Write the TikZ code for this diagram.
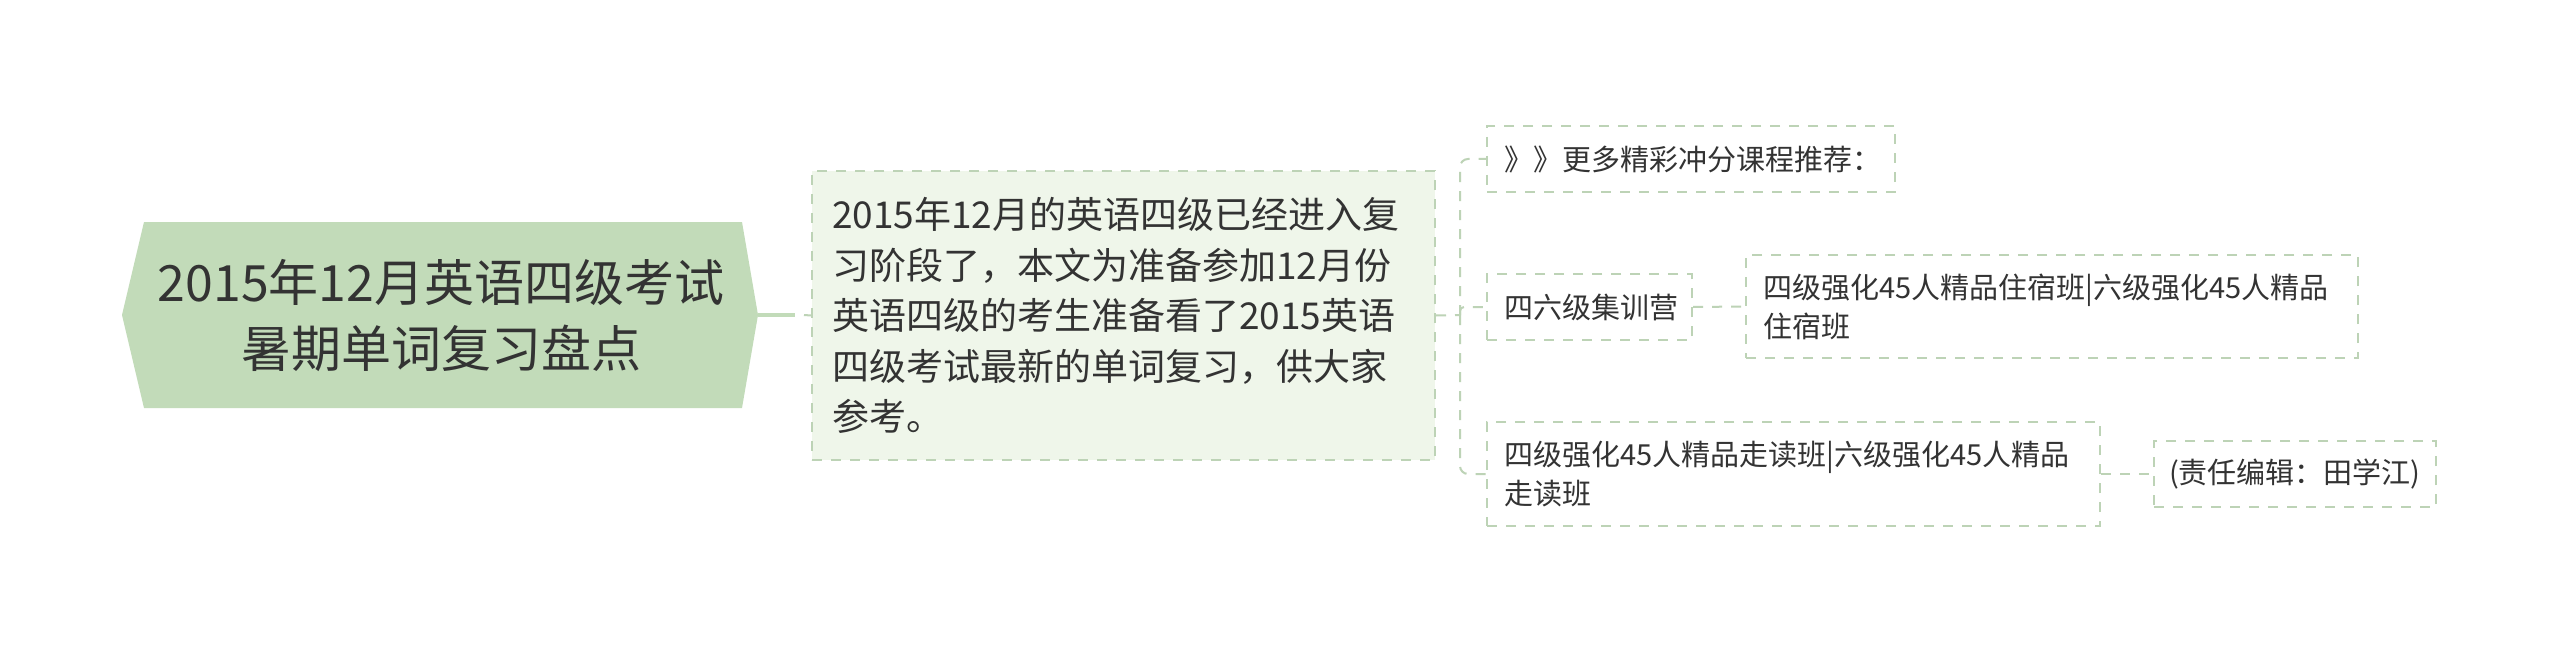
\documentclass[tikz,border=0pt]{standalone}
\usepackage{fontspec}
\setmainfont{Noto Sans CJK SC}
\definecolor{rootC}{HTML}{C2DBB9}
\definecolor{sumC}{HTML}{EFF6EA}
\definecolor{lineC}{HTML}{BDD3B6}
\definecolor{txtC}{HTML}{333333}
\tikzset{
  lvl/.style={draw=lineC, line width=2pt, dash pattern=on 10pt off 9pt, anchor=north west,
    inner xsep=17pt, inner ysep=0pt, align=left, text=txtC,
    font=\fontsize{29pt}{39pt}\selectfont},
  conn/.style={draw=lineC, line width=2pt, dash pattern=on 10pt off 9pt},
}
\begin{document}
\begin{tikzpicture}[x=1pt,y=-1pt]
\useasboundingbox (0,0) rectangle (2560,650);
\fill[white] (0,0) rectangle (2560,650);
% root
\fill[rootC] (122,315) -- (144,222) -- (742,222) -- (758,315) -- (742,408) -- (144,408) -- cycle;
\node[align=center, text=txtC, font=\fontsize{50pt}{66pt}\selectfont, inner sep=0pt] (root) at (441,315)
  {2015年12月英语四级考试\\暑期单词复习盘点};
\coordinate (rootR) at (758,315);
\coordinate (rootJ) at (804,315);
% summary
\node[lvl, fill=sumC, inner xsep=20pt, text width=583pt, minimum height=289pt,
  font=\fontsize{37pt}{50.5pt}\selectfont] (sum) at (811,170)
  {2015年12月的英语四级已经进入复\\习阶段了，本文为准备参加12月份\\英语四级的考生准备看了2015英语\\四级考试最新的单词复习，供大家\\参考。};
% children
\node[lvl, text width=374pt, minimum height=66pt] (c1) at (1486,125) {》》更多精彩冲分课程推荐：};
\node[lvl, text width=171pt, minimum height=66pt] (c2) at (1486,273) {四六级集训营};
\node[lvl, text width=578pt, minimum height=103pt] (c2a) at (1745,254) {四级强化45人精品住宿班|六级强化45人精品\\住宿班};
\node[lvl, text width=579pt, minimum height=104pt] (c3) at (1486,421) {四级强化45人精品走读班|六级强化45人精品\\走读班};
\node[lvl, inner xsep=15pt, text width=252pt, minimum height=66pt] (c3a) at (2153,440) {(责任编辑：田学江)};
% connectors
\draw[rootC, line width=3.5pt] (rootR) -- (795,315);
\draw[conn] (rootJ) -- (sum.west);
\coordinate (j) at (1460,315);
\draw[conn] (sum.east) -- (j);
\draw[conn, rounded corners=8pt] (j) |- (c1.west);
\draw[conn, rounded corners=8pt] (j) |- (c3.west);
\draw[conn, rounded corners=4pt] (j) |- (c2.west);
\draw[conn] (c2.east) -- (c2a.west);
\draw[conn] (c3.east) -- (c3a.west);
\end{tikzpicture}
\end{document}
